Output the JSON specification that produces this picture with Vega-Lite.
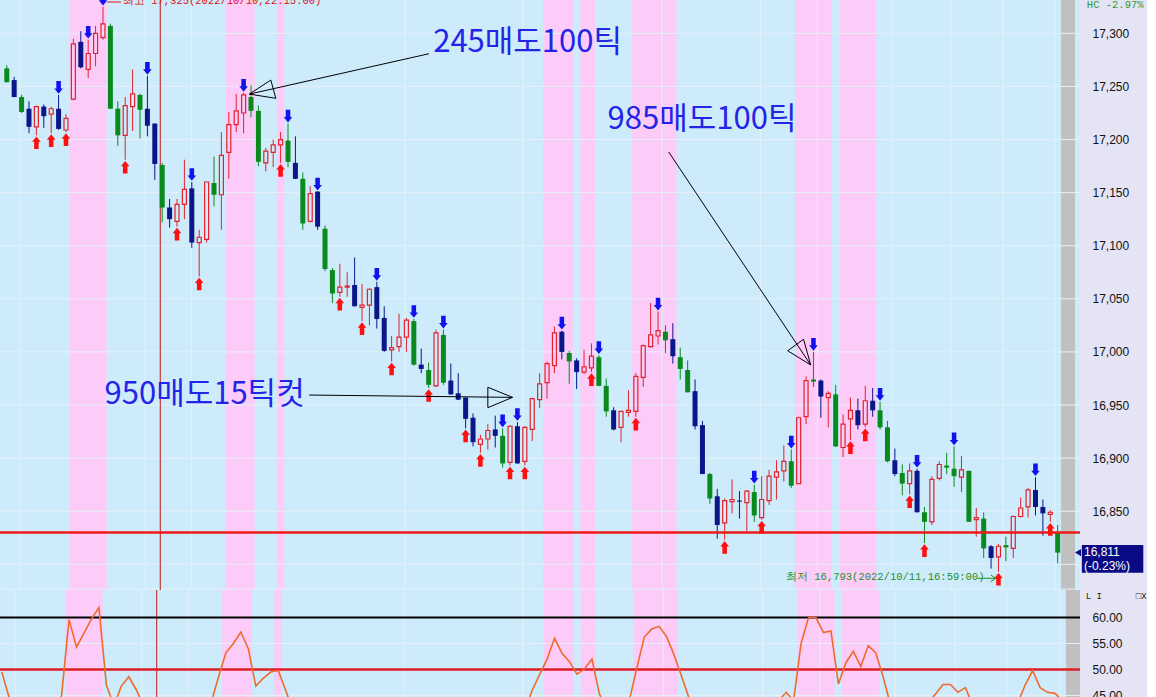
{
"$schema":"https://vega.github.io/schema/vega-lite/v6.json",
"background":"#e4e4f4",
"padding":0,
"spacing":0,
"config":{"view":{"fill":"#cdebfb","stroke":null},"axis":{"labelFont":"Liberation Sans","labelFontSize":12,"labelColor":"#111111","ticks":false,"tickSize":0,"domain":false,"grid":false,"labelPadding":12}},
"datasets":{
"candles":[
{"i":0,"t":"g","o":17267,"h":17270,"l":17254,"c":17254,"r":49.5,"s":""},
{"i":1,"t":"d","o":17256,"h":17259,"l":17240,"c":17240,"r":44.5,"s":""},
{"i":2,"t":"g","o":17240,"h":17242,"l":17225,"c":17226,"r":41,"s":""},
{"i":3,"t":"d","o":17229,"h":17236,"l":17206,"c":17212,"r":39.5,"s":""},
{"i":4,"t":"u","o":17212,"h":17232,"l":17204,"c":17231,"r":40,"s":"b"},
{"i":5,"t":"d","o":17231,"h":17233,"l":17211,"c":17222,"r":41,"s":""},
{"i":6,"t":"u","o":17224,"h":17231,"l":17206,"c":17229,"r":40.5,"s":"b"},
{"i":7,"t":"d","o":17229,"h":17242,"l":17209,"c":17210,"r":41.5,"s":"s"},
{"i":8,"t":"u","o":17209,"h":17224,"l":17207,"c":17220,"r":45,"s":"b"},
{"i":9,"t":"u","o":17238,"h":17295,"l":17237,"c":17290,"r":59.6,"s":""},
{"i":10,"t":"d","o":17292,"h":17302,"l":17267,"c":17268,"r":54.3,"s":""},
{"i":11,"t":"u","o":17266,"h":17294,"l":17258,"c":17281,"r":57,"s":"s"},
{"i":12,"t":"u","o":17281,"h":17307,"l":17269,"c":17300,"r":59.7,"s":""},
{"i":13,"t":"u","o":17296,"h":17325,"l":17294,"c":17309,"r":61.9,"s":"s"},
{"i":14,"t":"g","o":17307,"h":17309,"l":17229,"c":17229,"r":47,"s":""},
{"i":15,"t":"g","o":17229,"h":17236,"l":17194,"c":17204,"r":43,"s":""},
{"i":16,"t":"u","o":17204,"h":17240,"l":17181,"c":17232,"r":46.8,"s":"b"},
{"i":17,"t":"u","o":17231,"h":17266,"l":17208,"c":17243,"r":48.6,"s":""},
{"i":18,"t":"g","o":17242,"h":17243,"l":17201,"c":17228,"r":46.1,"s":""},
{"i":19,"t":"d","o":17229,"h":17260,"l":17203,"c":17213,"r":43,"s":"s"},
{"i":20,"t":"d","o":17215,"h":17215,"l":17162,"c":17177,"r":41,"s":""},
{"i":21,"t":"g","o":17176,"h":17178,"l":17122,"c":17136,"r":38.5,"s":""},
{"i":22,"t":"d","o":17136,"h":17144,"l":17117,"c":17125,"r":38,"s":""},
{"i":23,"t":"u","o":17123,"h":17144,"l":17118,"c":17139,"r":39,"s":"b"},
{"i":24,"t":"u","o":17139,"h":17181,"l":17125,"c":17153,"r":38.5,"s":""},
{"i":25,"t":"d","o":17154,"h":17160,"l":17098,"c":17103,"r":37,"s":"s"},
{"i":26,"t":"u","o":17103,"h":17115,"l":17071,"c":17108,"r":37.5,"s":"b"},
{"i":27,"t":"u","o":17106,"h":17160,"l":17103,"c":17160,"r":40,"s":""},
{"i":28,"t":"g","o":17159,"h":17184,"l":17137,"c":17148,"r":43.5,"s":""},
{"i":29,"t":"u","o":17148,"h":17207,"l":17115,"c":17185,"r":48.5,"s":""},
{"i":30,"t":"u","o":17188,"h":17226,"l":17163,"c":17214,"r":53.2,"s":""},
{"i":31,"t":"u","o":17214,"h":17243,"l":17207,"c":17227,"r":55,"s":""},
{"i":32,"t":"u","o":17225,"h":17244,"l":17206,"c":17242,"r":57.2,"s":"s"},
{"i":33,"t":"g","o":17240,"h":17251,"l":17221,"c":17227,"r":54,"s":""},
{"i":34,"t":"g","o":17227,"h":17232,"l":17175,"c":17179,"r":46.8,"s":""},
{"i":35,"t":"u","o":17178,"h":17192,"l":17170,"c":17189,"r":48.3,"s":""},
{"i":36,"t":"u","o":17188,"h":17200,"l":17174,"c":17195,"r":49.5,"s":""},
{"i":37,"t":"u","o":17195,"h":17207,"l":17178,"c":17200,"r":49.8,"s":"b"},
{"i":38,"t":"g","o":17199,"h":17215,"l":17174,"c":17179,"r":46,"s":"s"},
{"i":39,"t":"d","o":17178,"h":17203,"l":17163,"c":17163,"r":42,"s":""},
{"i":40,"t":"g","o":17163,"h":17169,"l":17115,"c":17121,"r":39,"s":""},
{"i":41,"t":"u","o":17123,"h":17156,"l":17122,"c":17149,"r":40,"s":""},
{"i":42,"t":"d","o":17151,"h":17151,"l":17115,"c":17118,"r":38,"s":"s"},
{"i":43,"t":"g","o":17116,"h":17119,"l":17076,"c":17078,"r":35,"s":""},
{"i":44,"t":"g","o":17077,"h":17079,"l":17046,"c":17055,"r":34,"s":""},
{"i":45,"t":"u","o":17056,"h":17083,"l":17052,"c":17061,"r":36,"s":"b"},
{"i":46,"t":"u","o":17061,"h":17075,"l":17052,"c":17062,"r":37,"s":""},
{"i":47,"t":"d","o":17063,"h":17089,"l":17043,"c":17043,"r":35,"s":""},
{"i":48,"t":"u","o":17042,"h":17064,"l":17029,"c":17044,"r":36,"s":"b"},
{"i":49,"t":"u","o":17044,"h":17060,"l":17025,"c":17059,"r":38,"s":""},
{"i":50,"t":"d","o":17061,"h":17066,"l":17022,"c":17031,"r":36,"s":"s"},
{"i":51,"t":"d","o":17032,"h":17043,"l":17000,"c":17001,"r":34,"s":""},
{"i":52,"t":"u","o":17002,"h":17015,"l":16991,"c":17004,"r":35,"s":"b"},
{"i":53,"t":"u","o":17005,"h":17036,"l":17000,"c":17014,"r":37,"s":""},
{"i":54,"t":"u","o":17014,"h":17032,"l":17000,"c":17030,"r":39,"s":""},
{"i":55,"t":"g","o":17029,"h":17031,"l":16987,"c":16988,"r":36,"s":"s"},
{"i":56,"t":"d","o":16988,"h":17003,"l":16980,"c":16984,"r":36,"s":""},
{"i":57,"t":"g","o":16983,"h":16990,"l":16966,"c":16969,"r":35,"s":"b"},
{"i":58,"t":"u","o":16968,"h":17021,"l":16967,"c":17018,"r":40,"s":""},
{"i":59,"t":"g","o":17016,"h":17021,"l":16969,"c":16971,"r":39,"s":"s"},
{"i":60,"t":"d","o":16973,"h":16989,"l":16960,"c":16960,"r":37,"s":""},
{"i":61,"t":"d","o":16961,"h":16980,"l":16955,"c":16955,"r":36,"s":""},
{"i":62,"t":"d","o":16957,"h":16957,"l":16928,"c":16937,"r":34,"s":"b"},
{"i":63,"t":"d","o":16938,"h":16942,"l":16911,"c":16915,"r":33,"s":""},
{"i":64,"t":"u","o":16913,"h":16922,"l":16905,"c":16918,"r":35,"s":"b"},
{"i":65,"t":"u","o":16918,"h":16932,"l":16908,"c":16926,"r":37,"s":""},
{"i":66,"t":"d","o":16927,"h":16940,"l":16910,"c":16921,"r":37,"s":""},
{"i":67,"t":"g","o":16921,"h":16928,"l":16891,"c":16895,"r":36,"s":"s"},
{"i":68,"t":"u","o":16896,"h":16931,"l":16893,"c":16930,"r":39,"s":"b"},
{"i":69,"t":"d","o":16930,"h":16934,"l":16895,"c":16895,"r":38,"s":"s"},
{"i":70,"t":"u","o":16897,"h":16930,"l":16893,"c":16929,"r":42,"s":"b"},
{"i":71,"t":"u","o":16927,"h":16957,"l":16916,"c":16956,"r":46,"s":""},
{"i":72,"t":"u","o":16955,"h":16980,"l":16947,"c":16970,"r":49,"s":""},
{"i":73,"t":"u","o":16971,"h":16991,"l":16956,"c":16989,"r":52,"s":""},
{"i":74,"t":"u","o":16987,"h":17024,"l":16980,"c":17018,"r":56,"s":""},
{"i":75,"t":"d","o":17019,"h":17020,"l":16993,"c":17000,"r":53.1,"s":"s"},
{"i":76,"t":"g","o":16999,"h":17001,"l":16970,"c":16991,"r":51.5,"s":""},
{"i":77,"t":"d","o":16992,"h":16994,"l":16965,"c":16981,"r":49.1,"s":""},
{"i":78,"t":"u","o":16981,"h":17002,"l":16979,"c":16986,"r":50.1,"s":""},
{"i":79,"t":"u","o":16985,"h":17008,"l":16981,"c":16996,"r":52,"s":"b"},
{"i":80,"t":"g","o":16995,"h":16997,"l":16968,"c":16968,"r":45.3,"s":"s"},
{"i":81,"t":"g","o":16968,"h":16975,"l":16939,"c":16944,"r":42,"s":""},
{"i":82,"t":"d","o":16945,"h":16948,"l":16926,"c":16927,"r":40,"s":""},
{"i":83,"t":"u","o":16929,"h":16944,"l":16915,"c":16944,"r":41,"s":""},
{"i":84,"t":"u","o":16943,"h":16964,"l":16939,"c":16945,"r":44,"s":""},
{"i":85,"t":"u","o":16944,"h":16980,"l":16939,"c":16977,"r":50.2,"s":"b"},
{"i":86,"t":"u","o":16976,"h":17007,"l":16967,"c":17006,"r":56.2,"s":""},
{"i":87,"t":"u","o":17005,"h":17046,"l":17004,"c":17016,"r":57.8,"s":""},
{"i":88,"t":"u","o":17015,"h":17038,"l":17007,"c":17020,"r":58.3,"s":"s"},
{"i":89,"t":"g","o":17019,"h":17025,"l":16999,"c":17011,"r":56.3,"s":""},
{"i":90,"t":"d","o":17012,"h":17027,"l":16989,"c":16996,"r":52.8,"s":""},
{"i":91,"t":"g","o":16995,"h":17004,"l":16974,"c":16984,"r":48.7,"s":""},
{"i":92,"t":"g","o":16983,"h":16992,"l":16962,"c":16962,"r":44.5,"s":""},
{"i":93,"t":"d","o":16963,"h":16974,"l":16927,"c":16930,"r":41,"s":""},
{"i":94,"t":"d","o":16931,"h":16935,"l":16885,"c":16885,"r":37,"s":""},
{"i":95,"t":"g","o":16885,"h":16886,"l":16857,"c":16862,"r":35,"s":""},
{"i":96,"t":"d","o":16864,"h":16871,"l":16824,"c":16837,"r":33,"s":""},
{"i":97,"t":"u","o":16839,"h":16862,"l":16823,"c":16860,"r":35,"s":"b"},
{"i":98,"t":"u","o":16859,"h":16880,"l":16848,"c":16861,"r":36,"s":""},
{"i":99,"t":"d","o":16860,"h":16869,"l":16843,"c":16859,"r":36,"s":""},
{"i":100,"t":"u","o":16858,"h":16870,"l":16831,"c":16869,"r":38,"s":""},
{"i":101,"t":"g","o":16868,"h":16875,"l":16840,"c":16846,"r":37,"s":"s"},
{"i":102,"t":"u","o":16844,"h":16883,"l":16842,"c":16861,"r":39,"s":"b"},
{"i":103,"t":"u","o":16860,"h":16889,"l":16856,"c":16883,"r":41,"s":""},
{"i":104,"t":"u","o":16882,"h":16898,"l":16861,"c":16887,"r":44,"s":""},
{"i":105,"t":"u","o":16888,"h":16912,"l":16878,"c":16897,"r":45.6,"s":""},
{"i":106,"t":"g","o":16897,"h":16908,"l":16872,"c":16874,"r":44,"s":"s"},
{"i":107,"t":"u","o":16876,"h":16939,"l":16876,"c":16938,"r":55,"s":""},
{"i":108,"t":"u","o":16939,"h":16977,"l":16932,"c":16973,"r":60,"s":""},
{"i":109,"t":"g","o":16974,"h":17000,"l":16967,"c":16972,"r":60,"s":"s"},
{"i":110,"t":"d","o":16973,"h":16974,"l":16938,"c":16958,"r":57.1,"s":""},
{"i":111,"t":"u","o":16957,"h":16963,"l":16929,"c":16961,"r":57.4,"s":""},
{"i":112,"t":"g","o":16960,"h":16969,"l":16911,"c":16911,"r":47.2,"s":""},
{"i":113,"t":"u","o":16910,"h":16941,"l":16901,"c":16932,"r":51.3,"s":""},
{"i":114,"t":"u","o":16937,"h":16957,"l":16917,"c":16945,"r":53.5,"s":"b"},
{"i":115,"t":"d","o":16945,"h":16956,"l":16927,"c":16931,"r":50.6,"s":""},
{"i":116,"t":"u","o":16932,"h":16968,"l":16929,"c":16954,"r":54.6,"s":"b"},
{"i":117,"t":"d","o":16954,"h":16966,"l":16939,"c":16945,"r":53.2,"s":""},
{"i":118,"t":"g","o":16945,"h":16953,"l":16927,"c":16929,"r":48.5,"s":"s"},
{"i":119,"t":"g","o":16929,"h":16935,"l":16896,"c":16897,"r":43,"s":""},
{"i":120,"t":"d","o":16898,"h":16909,"l":16883,"c":16885,"r":41,"s":""},
{"i":121,"t":"g","o":16886,"h":16894,"l":16865,"c":16876,"r":40,"s":""},
{"i":122,"t":"u","o":16876,"h":16895,"l":16866,"c":16888,"r":41,"s":"b"},
{"i":123,"t":"d","o":16888,"h":16890,"l":16849,"c":16849,"r":39,"s":"s"},
{"i":124,"t":"g","o":16849,"h":16854,"l":16820,"c":16840,"r":43.5,"s":"b"},
{"i":125,"t":"u","o":16840,"h":16883,"l":16837,"c":16880,"r":45.3,"s":""},
{"i":126,"t":"u","o":16881,"h":16897,"l":16879,"c":16894,"r":47.1,"s":""},
{"i":127,"t":"g","o":16893,"h":16905,"l":16885,"c":16891,"r":47.1,"s":""},
{"i":128,"t":"g","o":16890,"h":16911,"l":16873,"c":16883,"r":45.6,"s":"s"},
{"i":129,"t":"u","o":16882,"h":16902,"l":16868,"c":16889,"r":46.5,"s":""},
{"i":130,"t":"g","o":16888,"h":16888,"l":16840,"c":16840,"r":43,"s":""},
{"i":131,"t":"u","o":16842,"h":16853,"l":16826,"c":16844,"r":42,"s":""},
{"i":132,"t":"g","o":16843,"h":16849,"l":16806,"c":16815,"r":40,"s":""},
{"i":133,"t":"d","o":16817,"h":16818,"l":16796,"c":16806,"r":39,"s":""},
{"i":134,"t":"u","o":16807,"h":16819,"l":16793,"c":16817,"r":40,"s":"b"},
{"i":135,"t":"g","o":16818,"h":16826,"l":16803,"c":16816,"r":41,"s":""},
{"i":136,"t":"u","o":16815,"h":16846,"l":16806,"c":16845,"r":43.5,"s":""},
{"i":137,"t":"u","o":16845,"h":16863,"l":16844,"c":16853,"r":47,"s":""},
{"i":138,"t":"u","o":16854,"h":16872,"l":16844,"c":16870,"r":49.8,"s":""},
{"i":139,"t":"d","o":16870,"h":16882,"l":16846,"c":16854,"r":46.5,"s":"s"},
{"i":140,"t":"d","o":16854,"h":16861,"l":16827,"c":16848,"r":45.6,"s":""},
{"i":141,"t":"u","o":16847,"h":16851,"l":16840,"c":16849,"r":45.4,"s":"b"},
{"i":142,"t":"g","o":16830,"h":16837,"l":16801,"c":16811,"r":44,"s":""}
],
"bands":[{"a":8.5,"b":13.5},{"a":29.5,"b":33.5},{"a":36.5,"b":37.5},{"a":72.5,"b":76.5},{"a":77.5,"b":79.5},{"a":84.5,"b":90.5},{"a":106.5,"b":111.5},{"a":112.5,"b":117.5}],
"strip":[{"a":142.46,"b":144.34}],
"vgrid":[{"g":1.77},{"g":18.73},{"g":24.97},{"g":53.84},{"g":69.73},{"g":88.55},{"g":101.86},{"g":109.53},{"g":119.57},{"g":127.6},{"g":134.6},{"g":141.66}],
"hgridTop":[{"v":16776.6},{"v":16800},{"v":16850},{"v":16900},{"v":16950},{"v":17000},{"v":17050},{"v":17100},{"v":17150},{"v":17200},{"v":17250},{"v":17300}],
"hgridBot":[{"v":45},{"v":50},{"v":55},{"v":60}],
"redv":[{"v":20.74}],
"levelTop":[{"v":16830}],
"levelBlack":[{"v":60}],
"levelRed":[{"v":50}],
"arrows":[
{"id":"a1","k":0,"x":57.05,"y":17280.8},{"id":"a1","k":1,"x":32.78,"y":17242.8},
{"id":"a1t","k":0,"x":35.68,"y":17256.0},{"id":"a1t","k":1,"x":32.78,"y":17242.8},{"id":"a1t","k":2,"x":36.35,"y":17238.8},{"id":"a1t","k":3,"x":35.68,"y":17256.0},
{"id":"a2","k":0,"x":89.45,"y":17188.2},{"id":"a2","k":1,"x":108.63,"y":16987.7},
{"id":"a2t","k":0,"x":105.52,"y":17001.1},{"id":"a2t","k":1,"x":108.63,"y":16987.7},{"id":"a2t","k":2,"x":107.66,"y":17011.9},{"id":"a2t","k":3,"x":105.52,"y":17001.1},
{"id":"a3","k":0,"x":40.86,"y":16959.4},{"id":"a3","k":1,"x":68.34,"y":16957.2},
{"id":"a3t","k":0,"x":65.0,"y":16966.7},{"id":"a3t","k":1,"x":68.34,"y":16957.2},{"id":"a3t","k":2,"x":65.0,"y":16947.5},{"id":"a3t","k":3,"x":65.0,"y":16966.7}
],
"garrow":[
{"id":"g","k":0,"x":131.18,"y":16786.8},{"id":"g","k":1,"x":133.63,"y":16786.8},
{"id":"gh","k":0,"x":132.96,"y":16789.9},{"id":"gh","k":1,"x":133.63,"y":16786.8},{"id":"gh","k":2,"x":132.96,"y":16783.7}
],
"rarrow":[{"id":"r","k":0,"x":13.55,"y":17329.5},{"id":"r","k":1,"x":15.42,"y":17329.5}],
"notes":[{"x":70.37,"y":17291.3,"t":"245매도100틱"},{"x":93.94,"y":17218.4,"t":"985매도100틱"},{"x":26.73,"y":16959.9,"t":"950매도15틱컷"}],
"lowNote":[{"x":105.29,"y":16787.6,"t":"최저 16,793(2022/10/11,16:59:00)"}],
"highNote":[{"x":15.69,"y":17330.0,"t":"최고 17,325(2022/10/10,22:15:00)"}],
"hc":[{"x":145.94,"y":17331.0,"t":"HC -2.97%"}],
"box":[{"x":145.27,"x2":153.57,"y":16818.2,"y2":16792.1}],
"boxTri":[{"x":144.75,"y":16811}],
"boxText":[{"x":145.55,"y":16811.6,"t":"16,811"},{"x":145.55,"y":16798.4,"t":"(-0.23%)"}],
"icons":[{"x":145.1,"y":64.1,"t":"L I"},{"x":151.8,"y":64.1,"t":"□X"}]
},
"vconcat":[
{
"width":1080,"height":590,
"layer":[
{"data":{"name":"bands"},"mark":{"type":"rect","color":"#fdcbf8","clip":true},"encoding":{"x":{"field":"a","type":"quantitative","scale":{"domain":[-0.241,144.34],"nice":false,"zero":false},"axis":null},"x2":{"field":"b"}}},
{"data":{"name":"strip"},"mark":{"type":"rect","color":"#c0c0c0","clip":true},"encoding":{"x":{"field":"a","type":"quantitative","scale":{"domain":[-0.241,144.34],"nice":false,"zero":false},"axis":null},"x2":{"field":"b"}}},
{"data":{"name":"vgrid"},"mark":{"type":"rule","color":"#e6f0f8","strokeWidth":1,"clip":true},"encoding":{"x":{"field":"g","type":"quantitative","scale":{"domain":[-0.241,144.34],"nice":false,"zero":false},"axis":null}}},
{"data":{"name":"hgridTop"},"mark":{"type":"rule","color":"#e6f0f8","strokeWidth":1,"clip":true},"encoding":{"y":{"field":"v","type":"quantitative","scale":{"domain":[16775.8,17331.4],"nice":false,"zero":false},"axis":{"orient":"right","title":null,"values":[16850,16900,16950,17000,17050,17100,17150,17200,17250,17300],"format":",.0f"}}}},
{"data":{"name":"redv"},"mark":{"type":"rule","color":"#c41818","strokeWidth":1,"clip":true},"encoding":{"x":{"field":"v","type":"quantitative","scale":{"domain":[-0.241,144.34],"nice":false,"zero":false},"axis":null}}},
{"data":{"name":"candles"},"mark":{"type":"rule","strokeWidth":1,"clip":true},"encoding":{"x":{"field":"i","type":"quantitative","scale":{"domain":[-0.241,144.34],"nice":false,"zero":false},"axis":null},"y":{"field":"l","type":"quantitative","scale":{"domain":[16775.8,17331.4],"nice":false,"zero":false},"axis":{"orient":"right","title":null,"values":[16850,16900,16950,17000,17050,17100,17150,17200,17250,17300],"format":",.0f"}},"y2":{"field":"o"},"color":{"field":"t","type":"nominal","scale":{"domain":["u","d","g"],"range":["#e2222c","#0a168a","#0a8a1c"]},"legend":null}}},
{"data":{"name":"candles"},"mark":{"type":"rule","strokeWidth":1,"clip":true},"encoding":{"x":{"field":"i","type":"quantitative","scale":{"domain":[-0.241,144.34],"nice":false,"zero":false},"axis":null},"y":{"field":"h","type":"quantitative","scale":{"domain":[16775.8,17331.4],"nice":false,"zero":false},"axis":{"orient":"right","title":null,"values":[16850,16900,16950,17000,17050,17100,17150,17200,17250,17300],"format":",.0f"}},"y2":{"field":"c"},"color":{"field":"t","type":"nominal","scale":{"domain":["u","d","g"],"range":["#e2222c","#0a168a","#0a8a1c"]},"legend":null}}},
{"data":{"name":"candles"},"transform":[{"filter":"datum.t != 'u'"}],"mark":{"type":"bar","size":5,"clip":true},"encoding":{"x":{"field":"i","type":"quantitative","scale":{"domain":[-0.241,144.34],"nice":false,"zero":false},"axis":null},"y":{"field":"o","type":"quantitative","scale":{"domain":[16775.8,17331.4],"nice":false,"zero":false},"axis":{"orient":"right","title":null,"values":[16850,16900,16950,17000,17050,17100,17150,17200,17250,17300],"format":",.0f"}},"y2":{"field":"c"},"color":{"field":"t","type":"nominal","scale":{"domain":["u","d","g"],"range":["#e2222c","#0a168a","#0a8a1c"]},"legend":null}}},
{"data":{"name":"candles"},"transform":[{"filter":"datum.t == 'u'"}],"mark":{"type":"bar","size":4,"filled":false,"color":"#e2222c","strokeWidth":1.2,"clip":true},"encoding":{"x":{"field":"i","type":"quantitative","scale":{"domain":[-0.241,144.34],"nice":false,"zero":false},"axis":null},"y":{"field":"o","type":"quantitative","scale":{"domain":[16775.8,17331.4],"nice":false,"zero":false},"axis":{"orient":"right","title":null,"values":[16850,16900,16950,17000,17050,17100,17150,17200,17250,17300],"format":",.0f"}},"y2":{"field":"c"}}},
{"data":{"name":"levelTop"},"mark":{"type":"rule","color":"#ee1a1a","strokeWidth":2.5,"clip":true},"encoding":{"y":{"field":"v","type":"quantitative","scale":{"domain":[16775.8,17331.4],"nice":false,"zero":false},"axis":{"orient":"right","title":null,"values":[16850,16900,16950,17000,17050,17100,17150,17200,17250,17300],"format":",.0f"}}}},
{"data":{"name":"candles"},"transform":[{"filter":"datum.s == 's'"}],"mark":{"type":"point","shape":"M-0.36,-1L0.36,-1L0.36,0.15L0.68,0.15L0,1L-0.68,0.15L-0.36,0.15Z","size":160,"filled":true,"opacity":1,"color":"#1212ee","strokeWidth":0,"yOffset":-7.5,"clip":true},"encoding":{"x":{"field":"i","type":"quantitative","scale":{"domain":[-0.241,144.34],"nice":false,"zero":false},"axis":null},"y":{"field":"h","type":"quantitative","scale":{"domain":[16775.8,17331.4],"nice":false,"zero":false},"axis":{"orient":"right","title":null,"values":[16850,16900,16950,17000,17050,17100,17150,17200,17250,17300],"format":",.0f"}}}},
{"data":{"name":"candles"},"transform":[{"filter":"datum.s == 'b'"}],"mark":{"type":"point","shape":"M-0.36,1L0.36,1L0.36,-0.15L0.68,-0.15L0,-1L-0.68,-0.15L-0.36,-0.15Z","size":160,"filled":true,"opacity":1,"color":"#ff1010","strokeWidth":0,"yOffset":7.5,"clip":true},"encoding":{"x":{"field":"i","type":"quantitative","scale":{"domain":[-0.241,144.34],"nice":false,"zero":false},"axis":null},"y":{"field":"l","type":"quantitative","scale":{"domain":[16775.8,17331.4],"nice":false,"zero":false},"axis":{"orient":"right","title":null,"values":[16850,16900,16950,17000,17050,17100,17150,17200,17250,17300],"format":",.0f"}}}},
{"data":{"name":"arrows"},"mark":{"type":"line","color":"#000000","strokeWidth":1,"clip":true},"encoding":{"x":{"field":"x","type":"quantitative","scale":{"domain":[-0.241,144.34],"nice":false,"zero":false},"axis":null},"y":{"field":"y","type":"quantitative","scale":{"domain":[16775.8,17331.4],"nice":false,"zero":false},"axis":{"orient":"right","title":null,"values":[16850,16900,16950,17000,17050,17100,17150,17200,17250,17300],"format":",.0f"}},"detail":{"field":"id"},"order":{"field":"k"}}},
{"data":{"name":"garrow"},"mark":{"type":"line","color":"#1f8f1f","strokeWidth":1,"clip":true},"encoding":{"x":{"field":"x","type":"quantitative","scale":{"domain":[-0.241,144.34],"nice":false,"zero":false},"axis":null},"y":{"field":"y","type":"quantitative","scale":{"domain":[16775.8,17331.4],"nice":false,"zero":false},"axis":{"orient":"right","title":null,"values":[16850,16900,16950,17000,17050,17100,17150,17200,17250,17300],"format":",.0f"}},"detail":{"field":"id"},"order":{"field":"k"}}},
{"data":{"name":"rarrow"},"mark":{"type":"line","color":"#e01010","strokeWidth":1,"clip":true},"encoding":{"x":{"field":"x","type":"quantitative","scale":{"domain":[-0.241,144.34],"nice":false,"zero":false},"axis":null},"y":{"field":"y","type":"quantitative","scale":{"domain":[16775.8,17331.4],"nice":false,"zero":false},"axis":{"orient":"right","title":null,"values":[16850,16900,16950,17000,17050,17100,17150,17200,17250,17300],"format":",.0f"}},"detail":{"field":"id"},"order":{"field":"k"}}},
{"data":{"name":"notes"},"mark":{"type":"text","font":"Noto Sans CJK KR","fontSize":31,"color":"#2424e8","align":"center","baseline":"middle"},"encoding":{"x":{"field":"x","type":"quantitative","scale":{"domain":[-0.241,144.34],"nice":false,"zero":false},"axis":null},"y":{"field":"y","type":"quantitative","scale":{"domain":[16775.8,17331.4],"nice":false,"zero":false},"axis":{"orient":"right","title":null,"values":[16850,16900,16950,17000,17050,17100,17150,17200,17250,17300],"format":",.0f"}},"text":{"field":"t"}}},
{"data":{"name":"lowNote"},"mark":{"type":"text","font":"Liberation Mono","fontSize":10.5,"color":"#1f8f1f","align":"left","baseline":"middle"},"encoding":{"x":{"field":"x","type":"quantitative","scale":{"domain":[-0.241,144.34],"nice":false,"zero":false},"axis":null},"y":{"field":"y","type":"quantitative","scale":{"domain":[16775.8,17331.4],"nice":false,"zero":false},"axis":{"orient":"right","title":null,"values":[16850,16900,16950,17000,17050,17100,17150,17200,17250,17300],"format":",.0f"}},"text":{"field":"t"}}},
{"data":{"name":"highNote"},"mark":{"type":"text","font":"Liberation Mono","fontSize":10.5,"color":"#e01010","align":"left","baseline":"middle","clip":true},"encoding":{"x":{"field":"x","type":"quantitative","scale":{"domain":[-0.241,144.34],"nice":false,"zero":false},"axis":null},"y":{"field":"y","type":"quantitative","scale":{"domain":[16775.8,17331.4],"nice":false,"zero":false},"axis":{"orient":"right","title":null,"values":[16850,16900,16950,17000,17050,17100,17150,17200,17250,17300],"format":",.0f"}},"text":{"field":"t"}}},
{"data":{"name":"hc"},"mark":{"type":"text","font":"Liberation Mono","fontSize":10.5,"color":"#2f9a2f","align":"left","baseline":"top"},"encoding":{"x":{"field":"x","type":"quantitative","scale":{"domain":[-0.241,144.34],"nice":false,"zero":false},"axis":null},"y":{"field":"y","type":"quantitative","scale":{"domain":[16775.8,17331.4],"nice":false,"zero":false},"axis":{"orient":"right","title":null,"values":[16850,16900,16950,17000,17050,17100,17150,17200,17250,17300],"format":",.0f"}},"text":{"field":"t"}}},
{"data":{"name":"box"},"mark":{"type":"rect","color":"#0a0a84"},"encoding":{"x":{"field":"x","type":"quantitative","scale":{"domain":[-0.241,144.34],"nice":false,"zero":false},"axis":null},"x2":{"field":"x2"},"y":{"field":"y","type":"quantitative","scale":{"domain":[16775.8,17331.4],"nice":false,"zero":false},"axis":{"orient":"right","title":null,"values":[16850,16900,16950,17000,17050,17100,17150,17200,17250,17300],"format":",.0f"}},"y2":{"field":"y2"}}},
{"data":{"name":"boxTri"},"mark":{"type":"point","shape":"triangle-left","size":50,"filled":true,"opacity":1,"color":"#0a0a84"},"encoding":{"x":{"field":"x","type":"quantitative","scale":{"domain":[-0.241,144.34],"nice":false,"zero":false},"axis":null},"y":{"field":"y","type":"quantitative","scale":{"domain":[16775.8,17331.4],"nice":false,"zero":false},"axis":{"orient":"right","title":null,"values":[16850,16900,16950,17000,17050,17100,17150,17200,17250,17300],"format":",.0f"}}}},
{"data":{"name":"boxText"},"mark":{"type":"text","font":"Liberation Sans","fontSize":12,"color":"#ffffff","align":"left","baseline":"middle"},"encoding":{"x":{"field":"x","type":"quantitative","scale":{"domain":[-0.241,144.34],"nice":false,"zero":false},"axis":null},"y":{"field":"y","type":"quantitative","scale":{"domain":[16775.8,17331.4],"nice":false,"zero":false},"axis":{"orient":"right","title":null,"values":[16850,16900,16950,17000,17050,17100,17150,17200,17250,17300],"format":",.0f"}},"text":{"field":"t"}}}
]
},
{
"width":1080,"height":107,
"layer":[
{"data":{"name":"bands"},"mark":{"type":"rect","color":"#fdcbf8","clip":true},"encoding":{"x":{"field":"a","type":"quantitative","scale":{"domain":[-0.241,144.34],"nice":false,"zero":false},"axis":null},"x2":{"field":"b"}}},
{"data":{"name":"strip"},"mark":{"type":"rect","color":"#c0c0c0","clip":true},"encoding":{"x":{"field":"a","type":"quantitative","scale":{"domain":[-0.241,144.34],"nice":false,"zero":false},"axis":null},"x2":{"field":"b"}}},
{"data":{"name":"vgrid"},"mark":{"type":"rule","color":"#e6f0f8","strokeWidth":1,"clip":true},"encoding":{"x":{"field":"g","type":"quantitative","scale":{"domain":[-0.241,144.34],"nice":false,"zero":false},"axis":null}}},
{"data":{"name":"hgridBot"},"mark":{"type":"rule","color":"#e6f0f8","strokeWidth":1,"clip":true},"encoding":{"y":{"field":"v","type":"quantitative","scale":{"domain":[44.7,65.3],"nice":false,"zero":false},"axis":{"orient":"right","title":null,"values":[45,50,55,60],"format":".2f"}}}},
{"data":{"name":"redv"},"mark":{"type":"rule","color":"#c41818","strokeWidth":1,"clip":true},"encoding":{"x":{"field":"v","type":"quantitative","scale":{"domain":[-0.241,144.34],"nice":false,"zero":false},"axis":null}}},
{"data":{"name":"levelBlack"},"mark":{"type":"rule","color":"#000000","strokeWidth":2,"clip":true},"encoding":{"y":{"field":"v","type":"quantitative","scale":{"domain":[44.7,65.3],"nice":false,"zero":false},"axis":{"orient":"right","title":null,"values":[45,50,55,60],"format":".2f"}}}},
{"data":{"name":"levelRed"},"mark":{"type":"rule","color":"#dd1c24","strokeWidth":2.5,"clip":true},"encoding":{"y":{"field":"v","type":"quantitative","scale":{"domain":[44.7,65.3],"nice":false,"zero":false},"axis":{"orient":"right","title":null,"values":[45,50,55,60],"format":".2f"}}}},
{"data":{"name":"candles"},"mark":{"type":"line","color":"#f06a2c","strokeWidth":1.6,"clip":true},"encoding":{"x":{"field":"i","type":"quantitative","scale":{"domain":[-0.241,144.34],"nice":false,"zero":false},"axis":null},"y":{"field":"r","type":"quantitative","scale":{"domain":[44.7,65.3],"nice":false,"zero":false},"axis":{"orient":"right","title":null,"values":[45,50,55,60],"format":".2f"}}}},
{"data":{"name":"icons"},"mark":{"type":"text","font":"Liberation Mono","fontSize":9,"color":"#222222","align":"left","baseline":"middle"},"encoding":{"x":{"field":"x","type":"quantitative","scale":{"domain":[-0.241,144.34],"nice":false,"zero":false},"axis":null},"y":{"field":"y","type":"quantitative","scale":{"domain":[44.7,65.3],"nice":false,"zero":false},"axis":{"orient":"right","title":null,"values":[45,50,55,60],"format":".2f"}},"text":{"field":"t"}}}
]
}
],
"resolve":{"scale":{"x":"independent","y":"independent"}}
}
